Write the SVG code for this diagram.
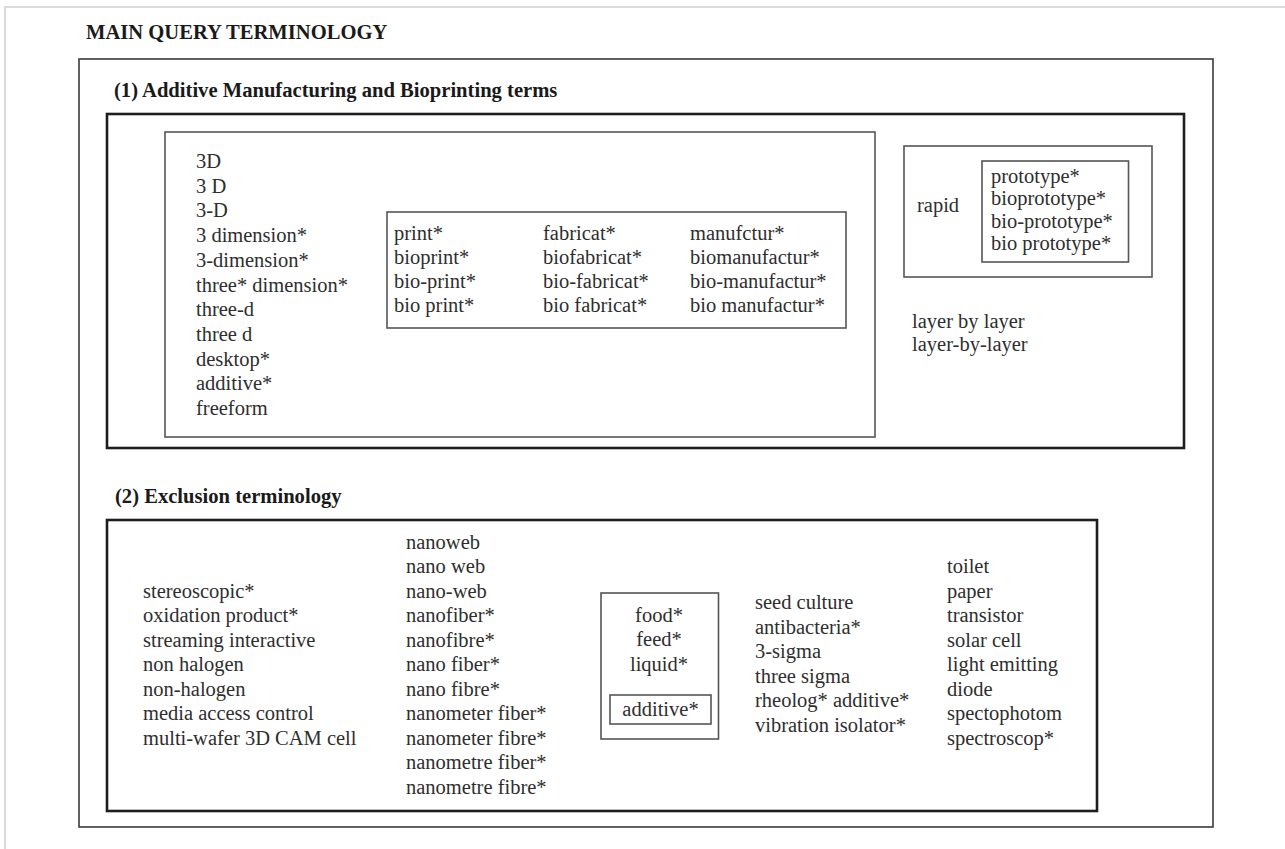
<svg xmlns="http://www.w3.org/2000/svg" width="1285" height="849" viewBox="0 0 1285 849">
<style>
  .t { font-family: "Liberation Serif", "Times New Roman", serif; font-size: 20.5px; fill: #2e2e2e; }
  .h { font-family: "Liberation Serif", "Times New Roman", serif; font-size: 20.6px; font-weight: bold; fill: #1a1a1a; }
  .c { text-anchor: middle; }
  .bx { fill: none; stroke: #3a3a3a; stroke-width: 1.6; }
  .bk { fill: none; stroke: #1e1e1e; stroke-width: 2.6; }
  .in { fill: none; stroke: #555; stroke-width: 1.6; }
</style>
<rect width="1285" height="849" fill="#ffffff"/>
<polyline points="5,849 5,7 1285,7" fill="none" stroke="#cfcfcf" stroke-width="1.5"/>

<g id="main">
  <text class="h" x="86" y="39">MAIN QUERY TERMINOLOGY</text>
  <rect class="bx" x="79" y="59" width="1134" height="768"/>
</g>

<g id="section1">
  <text class="h" x="114" y="97">(1) Additive Manufacturing and Bioprinting terms</text>
  <rect class="bk" x="107" y="114" width="1077" height="334"/>
</g>

<g id="am-terms">
  <rect class="in" x="165" y="132" width="710" height="305"/>
  <text class="t" x="196" y="168">3D</text>
  <text class="t" x="196" y="192.7">3 D</text>
  <text class="t" x="196" y="217.4">3-D</text>
  <text class="t" x="196" y="242.1">3 dimension*</text>
  <text class="t" x="196" y="266.8">3-dimension*</text>
  <text class="t" x="196" y="291.5">three* dimension*</text>
  <text class="t" x="196" y="316.2">three-d</text>
  <text class="t" x="196" y="340.9">three d</text>
  <text class="t" x="196" y="365.6">desktop*</text>
  <text class="t" x="196" y="390.3">additive*</text>
  <text class="t" x="196" y="415">freeform</text>
</g>

<g id="print-terms">
  <rect class="in" x="387" y="212" width="459" height="116"/>
  <text class="t" x="394" y="240">print*</text>
  <text class="t" x="394" y="264">bioprint*</text>
  <text class="t" x="394" y="288">bio-print*</text>
  <text class="t" x="394" y="312">bio print*</text>
  <text class="t" x="543" y="240">fabricat*</text>
  <text class="t" x="543" y="264">biofabricat*</text>
  <text class="t" x="543" y="288">bio-fabricat*</text>
  <text class="t" x="543" y="312">bio fabricat*</text>
  <text class="t" x="690" y="240">manufctur*</text>
  <text class="t" x="690" y="264">biomanufactur*</text>
  <text class="t" x="690" y="288">bio-manufactur*</text>
  <text class="t" x="690" y="312">bio manufactur*</text>
</g>

<g id="rapid">
  <rect class="in" x="904" y="146" width="248" height="131"/>
  <text class="t" x="917" y="212">rapid</text>
</g>

<g id="prototype-terms">
  <rect class="in" x="982" y="161" width="146.5" height="101"/>
  <text class="t" x="991" y="182.5">prototype*</text>
  <text class="t" x="991" y="205">bioprototype*</text>
  <text class="t" x="991" y="227.5">bio-prototype*</text>
  <text class="t" x="991" y="250">bio prototype*</text>
</g>

<g id="layer-terms">
  <text class="t" x="912" y="327.5">layer by layer</text>
  <text class="t" x="912" y="350.5">layer-by-layer</text>
</g>

<g id="section2">
  <text class="h" x="115" y="503">(2) Exclusion terminology</text>
  <rect class="bk" x="107" y="520" width="990" height="291"/>
</g>

<g id="excl-col1">
  <text class="t" x="143" y="597.5">stereoscopic*</text>
  <text class="t" x="143" y="622">oxidation product*</text>
  <text class="t" x="143" y="646.5">streaming interactive</text>
  <text class="t" x="143" y="671">non halogen</text>
  <text class="t" x="143" y="695.5">non-halogen</text>
  <text class="t" x="143" y="720">media access control</text>
  <text class="t" x="143" y="744.5">multi-wafer 3D CAM cell</text>
</g>

<g id="excl-nano">
  <text class="t" x="406" y="548.5">nanoweb</text>
  <text class="t" x="406" y="573">nano web</text>
  <text class="t" x="406" y="597.5">nano-web</text>
  <text class="t" x="406" y="622">nanofiber*</text>
  <text class="t" x="406" y="646.5">nanofibre*</text>
  <text class="t" x="406" y="671">nano fiber*</text>
  <text class="t" x="406" y="695.5">nano fibre*</text>
  <text class="t" x="406" y="720">nanometer fiber*</text>
  <text class="t" x="406" y="744.5">nanometer fibre*</text>
  <text class="t" x="406" y="769">nanometre fiber*</text>
  <text class="t" x="406" y="793.5">nanometre fibre*</text>
</g>

<g id="excl-food">
  <rect class="in" x="601" y="593" width="117.5" height="146"/>
  <text class="t c" x="659" y="621.5">food*</text>
  <text class="t c" x="659" y="646">feed*</text>
  <text class="t c" x="659" y="670.5">liquid*</text>
</g>

<g id="excl-additive">
  <rect class="in" x="610" y="695" width="101" height="29"/>
  <text class="t c" x="660.5" y="715.5">additive*</text>
</g>

<g id="excl-col4">
  <text class="t" x="755" y="609">seed culture</text>
  <text class="t" x="755" y="633.5">antibacteria*</text>
  <text class="t" x="755" y="658">3-sigma</text>
  <text class="t" x="755" y="682.5">three sigma</text>
  <text class="t" x="755" y="707">rheolog* additive*</text>
  <text class="t" x="755" y="731.5">vibration isolator*</text>
</g>

<g id="excl-col5">
  <text class="t" x="947" y="573">toilet</text>
  <text class="t" x="947" y="597.5">paper</text>
  <text class="t" x="947" y="622">transistor</text>
  <text class="t" x="947" y="646.5">solar cell</text>
  <text class="t" x="947" y="671">light emitting</text>
  <text class="t" x="947" y="695.5">diode</text>
  <text class="t" x="947" y="720">spectophotom</text>
  <text class="t" x="947" y="744.5">spectroscop*</text>
</g>

<g id="connectors"></g>
</svg>
